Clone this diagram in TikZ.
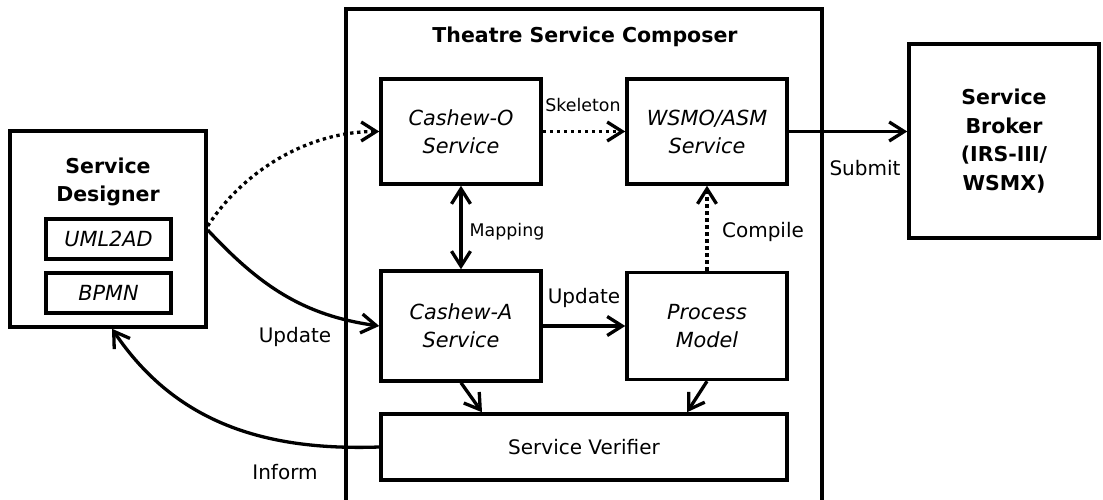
\documentclass[tikz,border=0pt]{standalone}
\usepackage{fontspec}
\setmainfont{DejaVu Sans}
\usetikzlibrary{arrows.meta}
\begin{document}
\begin{tikzpicture}[x=1pt,y=-1pt,
  >={Straight Barb[length=15pt,width=19pt,line width=3.3pt]},
  box/.style={draw, line width=3.5pt, inner sep=0pt, align=center},
  boxtext/.style={font=\fontsize{20.8}{28}\selectfont\itshape},
  boldtext/.style={font=\fontsize{20.5}{28.5}\selectfont\bfseries, align=center},
  lbl/.style={font=\fontsize{20}{24}\selectfont},
  smalllbl/.style={font=\fontsize{17.4}{21}\selectfont},
  conn/.style={line width=3.3pt, ->},
  dotline/.style={conn, dash pattern=on 3.4pt off 3.6pt},
]
\useasboundingbox (0,0) rectangle (1103,500);
\clip (0,0) rectangle (1103,500);

% service designer with its two notations
\node[box, minimum width=196pt, minimum height=196pt] (sd) at (108,229) {};
\node[boldtext] (sdt) at (108,182) {Service\\Designer};
\node[box, boxtext, minimum width=125pt, minimum height=40pt] (uml) at (108.5,239) {UML2AD};
\node[box, boxtext, minimum width=125pt, minimum height=40pt] (bpmn) at (108.5,293) {BPMN};

% composer frame (runs past the lower edge)
\node[box, minimum width=476pt, minimum height=520pt] (tsc) at (584,269) {};
\node[boldtext] (tsct) at (585,37) {Theatre Service Composer};

% inner services
\node[box, boxtext, minimum width=160pt, minimum height=105pt] (co) at (461,131.5) {Cashew-O\\Service};
\node[box, boxtext, minimum width=160pt, minimum height=105pt] (ws) at (707,131.5) {WSMO/ASM\\Service};
\node[box, boxtext, minimum width=160pt, minimum height=110pt] (ca) at (461,326) {Cashew-A\\Service};
\node[box, boxtext, minimum width=160pt, minimum height=107pt] (pm) at (707,326) {Process\\Model};
\node[box, lbl, minimum width=406pt, minimum height=66pt] (sv) at (584,447) {Service Verifier};

% broker
\node[box, boldtext, minimum width=190pt, minimum height=194pt] (sb) at (1004,141) {Service\\Broker\\(IRS-III/\\WSMX)};

% connectors
\draw[dotline] ([yshift=3pt]sd.east) to[out=57,in=180,looseness=0.9] (co.west);
\draw[conn] ([yshift=-1pt]sd.east) to[out=-47,in=172] (ca.west);
\draw[conn] (sv.west) to[out=182,in=-56] ([xshift=4pt]sd.south);
\draw[dotline] (co.east) -- (ws.west);
\draw[line width=3.3pt, <->] (co.south) -- (ca.north);
\draw[dotline] (pm.north) -- (ws.south);
\draw[conn] (ca.east) -- (pm.west);
\draw[conn] (ws.east) -- (ws.east -| sb.west);
\draw[conn] (ca.south) -- ([xshift=-102pt]sv.north);
\draw[conn] (pm.south) -- ([xshift=103pt]sv.north);

% connector labels
\node[smalllbl] (lskel) at (583,105) {Skeleton};
\node[smalllbl] (lmap) at (507,232) {Mapping};
\node[lbl] (lcomp) at (763,232) {Compile};
\node[lbl] (lupd) at (584,298) {Update};
\node[lbl] (lsub) at (865,168) {Submit};
\node[lbl] (lupd2) at (295,337) {Update};
\node[lbl] (linf) at (285,472) {Inform};
\end{tikzpicture}
\end{document}
